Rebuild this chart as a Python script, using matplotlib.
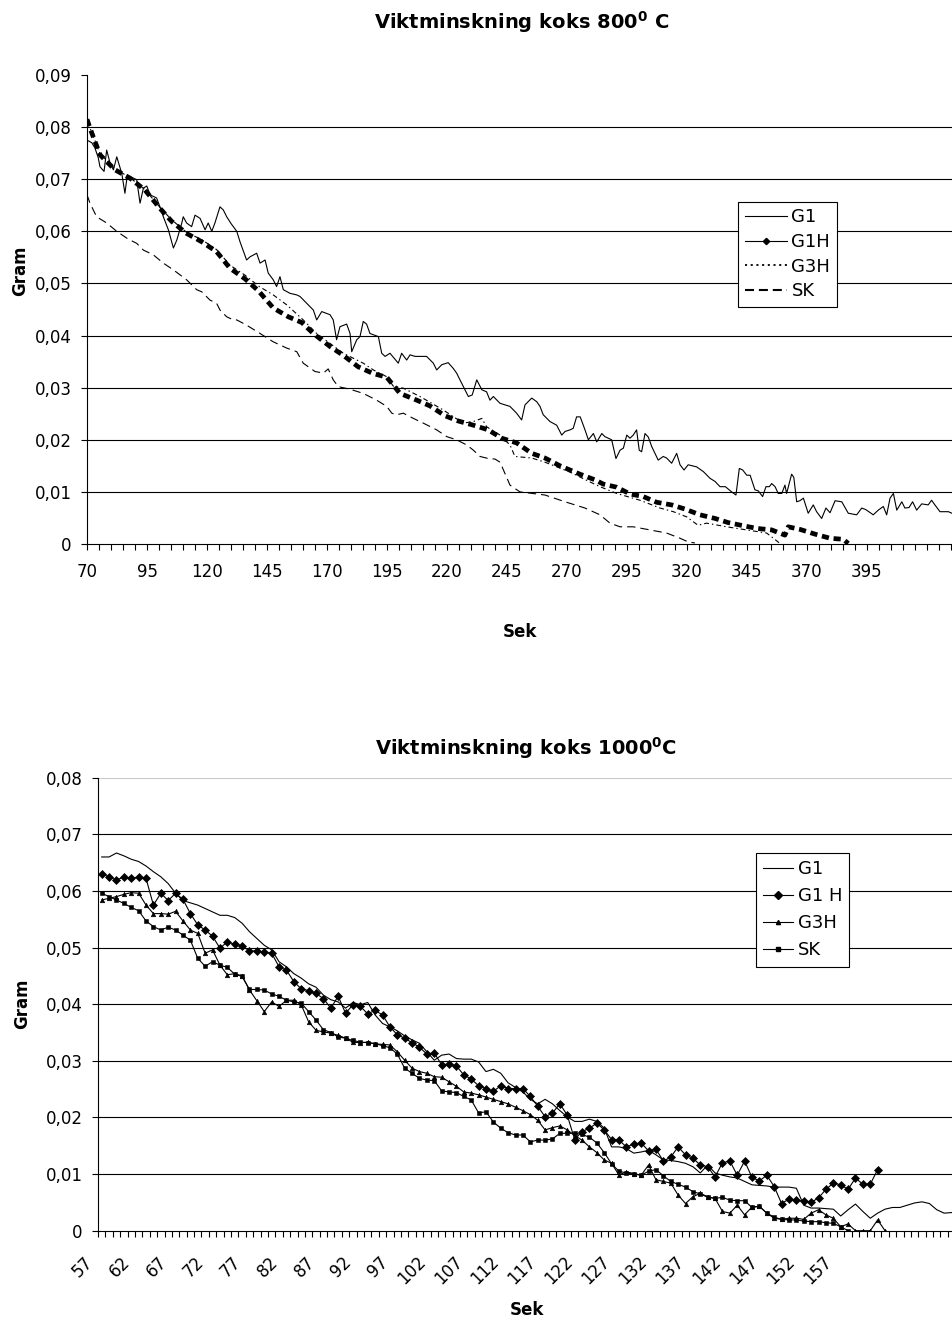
import matplotlib
matplotlib.use('Agg')
import matplotlib.pyplot as plt
from matplotlib.lines import Line2D
from matplotlib.transforms import ScaledTranslation
import numpy as np

plt.rcParams['font.family'] = ['DejaVu Sans']
plt.rcParams['mathtext.fontset'] = 'dejavusans'
plt.rcParams['lines.scale_dashes'] = False

# ---------------- data: top chart (800 C) ----------------
top_title = r'Viktminskning koks 800$^{\mathbf{0}}$ C'
top_xlabels = [70, 95, 120, 145, 170, 195, 220, 245, 270, 295, 320, 345, 370, 395]
top_yticks = [0, 0.01, 0.02, 0.03, 0.04, 0.05, 0.06, 0.07, 0.08, 0.09]

g1_sec = [70, 72, 73.3, 74.7, 75.4, 77.1, 78.2, 79.6, 81, 82.4, 84.5, 85.8, 86.8, 90.7, 92.1, 93.5,
          94.9, 96.3, 99, 100.4, 101.8, 103.9, 106, 107.4, 109.5, 110.1, 111.5, 113.6, 115, 117.1,
          119.2, 120.5, 122, 123.3, 125.4, 126.8, 128.2, 130, 132.4, 133.75, 136.5, 137.9, 140.7,
          142.1, 144.2, 145.5, 147.6, 149, 150.4, 151.8, 154.6, 157.4, 158.75, 161.5, 164.3, 165.7,
          167.8, 171.25, 172.6, 174, 175.4, 178.2, 179.6, 180.3, 182.4, 183.75, 185.1, 186.5, 187.9,
          191.4, 192.8, 194.2, 196.25, 199.7, 201.1, 203.2, 204.6, 206.7, 211.5, 214.3, 215.7, 217.8,
          220.5, 222.6, 224, 225.4, 227.5, 228.9, 230.5, 232.4, 234.5, 236.5, 237.9, 239.3, 242.1,
          246.25, 249, 251.1, 252.5, 255.3, 257.4, 258.75, 260.1, 262.9, 265.7, 267.8, 269.2,
          271.25, 272.6, 274, 275.5, 277.5, 278.9, 281, 282.4, 284.5, 285.8, 288.6, 290.4, 292.1,
          293.5, 294.9, 296.25, 297.6, 299, 300.1, 301.1, 302.5, 303.9, 305.3, 308, 310.1, 311.5,
          313.6, 315.7, 317.1, 318.75, 320.5, 324, 326.8, 329.6, 331.7, 333.75, 336, 338.6, 340.4,
          341.8, 343.2, 344.9, 346.3, 348.3, 349.7, 351.5, 352.9, 354.3, 355.3, 356.7, 358, 359.5,
          360.8, 361.5, 363.6, 364.5, 365.7, 367, 368.5, 370.5, 372.6, 374, 376.1, 377.9, 379.6,
          381.7, 384.5, 387.2, 390.7, 392.8, 394.5, 397.6, 399.7, 401.8, 403.2, 404.6, 406, 407.4,
          409.5, 410.8, 412.5, 414, 415.7, 417.8, 420.5, 421.9, 423.3, 425.4, 428.9, 430.4]
g1_val = [.0775, .0770, .0760, .0741, .0724, .0715, .0756, .0731, .0718, .0743, .0711, .0673, .0708,
          .0699, .0654, .0683, .0687, .0670, .0664, .0647, .0628, .0603, .0568, .0583, .0616, .0628,
          .0616, .0609, .0631, .0625, .0603, .0616, .0600, .0616, .0647, .0641, .0628, .0615, .0600,
          .0580, .0545, .0551, .0558, .0539, .0545, .0520, .0507, .0494, .0513, .0488, .0481, .0478,
          .0475, .0462, .0449, .0430, .0446, .0440, .0430, .0392, .0417, .0422, .0404, .0369, .0392,
          .0398, .0427, .0422, .0404, .0398, .0366, .0360, .0366, .0347, .0366, .0353, .0363, .0360,
          .0360, .0347, .0334, .0344, .0348, .0337, .0328, .0315, .0296, .0283, .0286, .0315, .0296,
          .0292, .0276, .0283, .0270, .0264, .0251, .0238, .0267, .0280, .0273, .0264, .0248, .0235,
          .0228, .0209, .0216, .0219, .0222, .0244, .0244, .0219, .0200, .0212, .0196, .0212, .0206,
          .0200, .0164, .0180, .0184, .0209, .0203, .0209, .0219, .0180, .0177, .0212, .0205, .0187,
          .0161, .0168, .0165, .0155, .0174, .0152, .0142, .0152, .0148, .0139, .0126, .0120, .0110,
          .0110, .0100, .0094, .0145, .0142, .0132, .0132, .0104, .0102, .0091, .0110, .0110, .0116,
          .0110, .0097, .0097, .0113, .0097, .0134, .0128, .0081, .0083, .0088, .0059, .0075, .0062,
          .0049, .0069, .0060, .0083, .0081, .0059, .0056, .0069, .0066, .0056, .0065, .0072, .0056,
          .0088, .0097, .0065, .0081, .0069, .0070, .0081, .0065, .0077, .0075, .0084, .0075, .0062,
          .0062, .0059]

g1h_sec = [70, 71.25, 75.4, 77.5, 81.7, 87.9, 94.2, 100.4, 105.3, 111.5, 117.8, 124, 129.6, 135.8,
           141.4, 147.6, 153.9, 159.5, 164.3, 171.25, 176.8, 183, 189.3, 194.9, 200.4, 207.4, 212.9,
           219.2, 224.7, 231, 237.2, 242.8, 249, 255.3, 260.8, 267.1, 275.4, 281.7, 285.1, 290.7,
           296.25, 301.8, 307.4, 313.6, 319.2, 325.4, 331.7, 337.2, 343.5, 349, 355.3, 360.8, 362.2,
           367.1, 373.3, 379.6, 385.1, 387.2]
g1h_val = [.0815, .0798, .0747, .0737, .0718, .0702, .0679, .0644, .0619, .0596, .0580, .0561, .0529,
           .0509, .0486, .0453, .0436, .0425, .0404, .0379, .0362, .0340, .0327, .0320, .0289, .0276,
           .0265, .0246, .0236, .0228, .0219, .0203, .0194, .0174, .0165, .0150, .0134, .0123, .0115,
           .0109, .0096, .0091, .0080, .0075, .0067, .0056, .0049, .0041, .0035, .0030, .0027, .0017,
           .0033, .0028, .0019, .0011, .0009, .0001]

g3h_sec = [70, 72, 75.4, 81.7, 87.9, 94.2, 100.4, 105.3, 111.5, 117.8, 124, 129.6, 135.8, 141.8,
           147.6, 153.2, 160.1, 165.7, 171.25, 176.8, 185.1, 189.3, 194.9, 197.6, 201.8, 208.75,
           212.9, 218.5, 224.7, 226.8, 231, 234.5, 236.5, 242.1, 246.25, 248.3, 255.3, 260.8,
           271.25, 279.6, 283.75, 290.7, 300.4, 308.75, 314.3, 319.9, 324.6, 328.2, 336.5, 344.9,
           353.2, 356, 358.75]
g3h_val = [.0810, .0790, .0749, .0720, .0703, .0680, .0646, .0622, .0598, .0584, .0565, .0535, .0516,
           .0494, .0478, .0459, .0430, .0404, .0385, .0366, .0347, .0334, .0321, .0303, .0299, .0283,
           .0272, .0257, .0238, .0232, .0235, .0241, .0225, .0209, .0190, .0168, .0165, .0157, .0138,
           .0119, .0110, .0097, .0084, .0069, .0062, .0052, .0036, .0040, .0033, .0027, .0021, .0011,
           .0001]

sk_sec = [70, 71.25, 74, 78.2, 82.4, 87.2, 90.7, 93.5, 97.6, 101.8, 106, 111.5, 115.7, 117.8, 121.25,
          124, 125.4, 128.2, 131, 132.4, 136.5, 142.1, 147.6, 153.2, 157.4, 160.1, 165, 168.5, 170.5,
          172.6, 174.7, 179.6, 185.1, 190.7, 194.9, 197, 199, 201.8, 206, 210.1, 215.7, 219.9, 224,
          228.2, 231, 233.75, 237.2, 240, 242.1, 246.25, 250.4, 260.8, 269.2, 277.5, 283.75, 287.9,
          292.1, 297.6, 304.6, 311.5, 317.1, 320.5, 323.3]
sk_val = [.0670, .0654, .0628, .0616, .0600, .0585, .0577, .0564, .0555, .0539, .0526, .0507, .0488,
          .0484, .0468, .0462, .0449, .0436, .0430, .0430, .0420, .0404, .0388, .0376, .0369, .0347,
          .0331, .0328, .0336, .0315, .0302, .0297, .0289, .0276, .0264, .0251, .0248, .0251, .0241,
          .0232, .0219, .0206, .0200, .0190, .0180, .0168, .0164, .0163, .0157, .0113, .0100, .0094,
          .0081, .0069, .0056, .0040, .0033, .0033, .0027, .0021, .0011, .0004, .0002]

# ---------------- data: bottom chart (1000 C) ----------------
bot_title = r'Viktminskning koks 1000$^{\mathbf{0}}$C'
bot_xlabels = [57, 62, 67, 72, 77, 82, 87, 92, 97, 102, 107, 112, 117, 122, 127, 132, 137, 142,
               147, 152, 157]
bot_yticks = [0, 0.01, 0.02, 0.03, 0.04, 0.05, 0.06, 0.07, 0.08]

b_g1_sec = list(range(57, 173))
b_g1_val = [.0660, .0660, .0667, .0662, .0656, .0652, .0644, .0634, .0625, .0613, .0596, .0583, .0579,
            .0575, .0569, .0563, .0557, .0557, .0553, .0543, .0528, .0516, .0504, .0496, .0475, .0466,
            .0454, .0446, .0436, .0430, .0416, .0408, .0404, .0393, .0403, .0399, .0403, .0381, .0366,
            .0360, .0353, .0344, .0337, .0331, .0316, .0301, .0310, .0312, .0304, .0303, .0303, .0298,
            .0281, .0285, .0278, .0261, .0253, .0245, .0232, .0224, .0232, .0224, .0212, .0201, .0193,
            .0193, .0197, .0193, .0181, .0148, .0148, .0145, .0137, .0139, .0142, .0134, .0125, .0124,
            .0122, .0119, .0113, .0102, .0116, .0102, .0098, .0095, .0093, .0087, .0081, .0080, .0079,
            .0077, .0077, .0077, .0075, .0045, .0040, .0040, .0039, .0038, .0026, .0037, .0047, .0034,
            .0022, .0031, .0038, .0041, .0041, .0045, .0049, .0051, .0048, .0037, .0031, .0032]

b_g1h_sec = list(range(57, 163))
b_g1h_val = [.0630, .0625, .0619, .0625, .0622, .0625, .0622, .0575, .0596, .0583, .0596, .0585, .0560,
             .0540, .0531, .0520, .0499, .0510, .0506, .0503, .0494, .0494, .0492, .0490, .0466, .0460,
             .0440, .0427, .0424, .0419, .0410, .0393, .0414, .0384, .0399, .0396, .0383, .0389, .0381,
             .0360, .0346, .0340, .0332, .0324, .0312, .0314, .0293, .0294, .0291, .0275, .0268, .0256,
             .0251, .0246, .0256, .0251, .0251, .0251, .0237, .0220, .0201, .0208, .0224, .0204, .0161,
             .0175, .0181, .0190, .0178, .0161, .0160, .0148, .0153, .0155, .0141, .0144, .0123, .0130,
             .0148, .0134, .0128, .0116, .0113, .0095, .0120, .0123, .0098, .0123, .0094, .0088, .0098,
             .0078, .0048, .0056, .0054, .0052, .0050, .0058, .0073, .0084, .0081, .0073, .0093, .0082,
             .0082, .0108]

b_g3h_sec = list(range(57, 164))
b_g3h_val = [.0584, .0587, .0590, .0594, .0597, .0596, .0575, .0560, .0560, .0559, .0564, .0547, .0531,
             .0525, .0490, .0496, .0469, .0452, .0454, .0450, .0425, .0406, .0387, .0404, .0396, .0407,
             .0407, .0399, .0369, .0354, .0351, .0349, .0345, .0340, .0333, .0332, .0333, .0330, .0329,
             .0328, .0316, .0301, .0287, .0281, .0278, .0272, .0271, .0263, .0255, .0245, .0243, .0240,
             .0236, .0232, .0228, .0224, .0218, .0212, .0205, .0195, .0178, .0182, .0185, .0178, .0168,
             .0160, .0148, .0138, .0125, .0119, .0098, .0104, .0101, .0098, .0116, .0090, .0087, .0084,
             .0063, .0048, .0060, .0066, .0060, .0057, .0034, .0031, .0045, .0028, .0042, .0043, .0031,
             .0022, .0020, .0022, .0022, .0020, .0031, .0037, .0028, .0022, .0007, .0012, .0000, .0000,
             .0000, .0019, .0000]

b_sk_sec = list(range(57, 159))
b_sk_val = [.0596, .0590, .0584, .0578, .0571, .0565, .0547, .0537, .0531, .0536, .0531, .0522, .0513,
            .0481, .0467, .0475, .0469, .0465, .0453, .0449, .0426, .0426, .0425, .0418, .0414, .0407,
            .0404, .0402, .0387, .0372, .0355, .0350, .0342, .0340, .0336, .0333, .0332, .0330, .0327,
            .0323, .0312, .0287, .0278, .0269, .0266, .0265, .0247, .0245, .0244, .0237, .0231, .0208,
            .0210, .0192, .0181, .0173, .0169, .0169, .0157, .0160, .0160, .0162, .0172, .0172, .0172,
            .0170, .0165, .0155, .0138, .0118, .0105, .0102, .0100, .0098, .0105, .0108, .0097, .0087,
            .0082, .0077, .0069, .0065, .0059, .0057, .0059, .0054, .0053, .0053, .0041, .0043, .0031,
            .0024, .0020, .0019, .0019, .0017, .0016, .0016, .0014, .0013, .0007, .0000]

# ---------------- figure ----------------
W, H = 952, 1321
fig = plt.figure(figsize=(W / 100, H / 100), dpi=100)


def fx(px):
    return px / W


def fy(py):
    return 1 - py / H


def fmt(v):
    return '0' if v == 0 else ('%.2f' % v).replace('.', ',')


def style_axes(ax, yticks, ymax, grid_top_color):
    for s in ('top', 'right'):
        ax.spines[s].set_visible(False)
    for s in ('left', 'bottom'):
        ax.spines[s].set_linewidth(0.8)
        ax.spines[s].set_color('black')
    ax.set_ylim(0, ymax)
    ax.set_yticks(yticks)
    ax.set_yticklabels([fmt(v) for v in yticks])
    ax.tick_params(axis='y', direction='out', length=4.5, width=0.8, pad=6.5, labelsize=12)
    for v in yticks[1:]:
        c = grid_top_color if abs(v - ymax) < 1e-9 else 'black'
        ax.axhline(v, color=c, lw=0.8, zorder=0.5)


# ---- top axes
ax1 = fig.add_axes([fx(87), fy(544), 1 - fx(87), (544 - 75) / H])
style_axes(ax1, top_yticks, 0.09, 'none')
ax1.set_xlim(70, 70 + (W - 87) / 2.4)
tpos = np.arange(70, 431, 5)
ax1.set_xticks(tpos)
ax1.set_xticklabels([str(int(t)) if int(t) in top_xlabels else '' for t in tpos])
ax1.tick_params(axis='x', direction='out', length=4.5, width=0.8, pad=9, labelsize=12)

ax1.plot(g1_sec, g1_val, color='black', lw=0.8, zorder=3)
ax1.plot(g1h_sec, g1h_val, color='black', lw=3.4, ls=(0, (5.2, 3.4)), dash_capstyle='butt',
         zorder=3)
ax1.plot(g3h_sec, g3h_val, color='black', lw=0.8, ls=(0, (3.5, 2.2, 1.0, 2.2)), zorder=4)
ax1.plot(sk_sec, sk_val, color='black', lw=0.8, ls=(0, (6.0, 3.6)), zorder=3)

h_top = [Line2D([], [], color='black', lw=0.8),
         Line2D([], [], color='black', lw=0.8, marker='D', ms=3.2),
         Line2D([], [], color='black', lw=1.3, ls=(0, (1.5, 2.6))),
         Line2D([], [], color='black', lw=1.5, ls=(0, (6.5, 3.5)))]
leg1 = fig.legend(h_top, ['G1', 'G1H', 'G3H', 'SK'], loc='upper left',
                  bbox_to_anchor=(fx(738), fy(202)), bbox_transform=fig.transFigure,
                  borderaxespad=0, fontsize=13, handlelength=2.35, handletextpad=0.25,
                  labelspacing=0.36, borderpad=0.36, fancybox=False, framealpha=1,
                  edgecolor='black', shadow=False)
leg1.get_frame().set_linewidth(0.8)

fig.text(fx(522), fy(22), top_title, ha='center', va='center', fontsize=14, fontweight='bold')
fig.text(fx(20), fy(271), 'Gram', ha='center', va='center', rotation=90, fontsize=12,
         fontweight='bold')
fig.text(fx(520), fy(632), 'Sek', ha='center', va='center', fontsize=12, fontweight='bold')

# ---- bottom axes
ax2 = fig.add_axes([fx(98), fy(1230.7), 1 - fx(98), (1230.7 - 777.7) / H])
style_axes(ax2, bot_yticks, 0.08, '#c8c8c8')
ax2.set_xlim(56.5, 56.5 + (W - 98) / 7.39)
ax2.set_xticks(bot_xlabels)
ax2.set_xticklabels([str(v) for v in bot_xlabels], rotation=45, ha='right', va='top',
                    rotation_mode='anchor')
ax2.set_xticks(np.arange(56.5, 172.2, 1.0), minor=True)
ax2.tick_params(axis='x', which='major', length=0, pad=16, labelsize=12)
ax2.tick_params(axis='x', which='minor', direction='out', length=4, width=0.8)
off = ScaledTranslation(-0.18, 0, fig.dpi_scale_trans)
for lab in ax2.get_xticklabels():
    lab.set_transform(lab.get_transform() + off)

ax2.plot(b_g1_sec, b_g1_val, color='black', lw=0.8, zorder=3)
ax2.plot(b_g1h_sec, b_g1h_val, color='black', lw=0.8, marker='D', ms=4.3, mew=0.5, zorder=4)
ax2.plot(b_g3h_sec, b_g3h_val, color='black', lw=0.8, marker='^', ms=3.3, mew=0.4, zorder=3)
ax2.plot(b_sk_sec, b_sk_val, color='black', lw=0.8, marker='s', ms=2.3, mew=0.4, zorder=3)

h_bot = [Line2D([], [], color='black', lw=0.8),
         Line2D([], [], color='black', lw=0.8, marker='D', ms=4.3),
         Line2D([], [], color='black', lw=0.8, marker='^', ms=3.0),
         Line2D([], [], color='black', lw=0.8, marker='s', ms=2.3)]
leg2 = fig.legend(h_bot, ['G1', 'G1 H', 'G3H', 'SK'], loc='upper left',
                  bbox_to_anchor=(fx(756), fy(853)), bbox_transform=fig.transFigure,
                  borderaxespad=0, fontsize=13, handlelength=1.65, handletextpad=0.25,
                  labelspacing=0.5, borderpad=0.4, fancybox=False, framealpha=1,
                  edgecolor='black', shadow=False)
leg2.get_frame().set_linewidth(0.8)

fig.text(fx(526), fy(748), bot_title, ha='center', va='center', fontsize=14, fontweight='bold')
fig.text(fx(22), fy(1004), 'Gram', ha='center', va='center', rotation=90, fontsize=12,
         fontweight='bold')
fig.text(fx(527), fy(1310), 'Sek', ha='center', va='center', fontsize=12, fontweight='bold')

fig.savefig('out.png', dpi=100)
